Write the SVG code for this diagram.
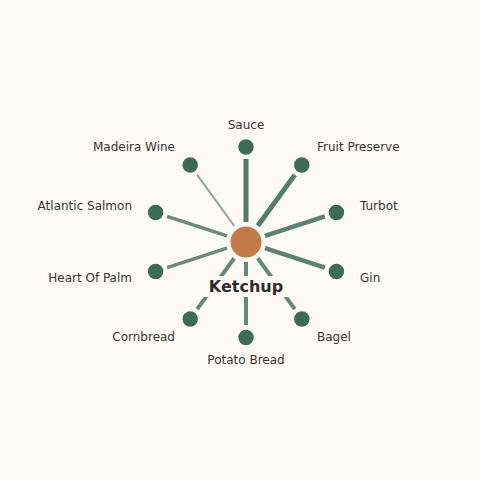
<svg xmlns="http://www.w3.org/2000/svg" width="480" height="480" viewBox="0 0 480 480">
<style>
.lbl{font-family:"DejaVu Sans",sans-serif;font-size:12px;fill:#333333}
.node{fill:#3d6b5a;stroke:#fffaf6;stroke-width:1.5}
.edge{stroke:#3d6b5a;fill:none;stroke-linecap:butt}
.title{font-family:"DejaVu Sans",sans-serif;font-size:16px;font-weight:bold;fill:#2b2b2b}
</style>
<rect width="480" height="480" fill="#fffaf6"/>
<g id="connectors">
<line class="edge" x1="246" y1="222" x2="246" y2="159" stroke-width="5" stroke-opacity="0.9"/>
<line class="edge" x1="257.8" y1="225.8" x2="294.8" y2="174.9" stroke-width="5" stroke-opacity="0.88"/>
<line class="edge" x1="265" y1="235.8" x2="324.9" y2="216.4" stroke-width="4.5" stroke-opacity="0.85"/>
<line class="edge" x1="265" y1="248.2" x2="324.9" y2="267.6" stroke-width="4.5" stroke-opacity="0.85"/>
<line class="edge" x1="257.8" y1="258.2" x2="294.8" y2="309.1" stroke-width="4" stroke-opacity="0.8"/>
<line class="edge" x1="246" y1="262" x2="246" y2="325" stroke-width="4" stroke-opacity="0.8"/>
<line class="edge" x1="234.2" y1="258.2" x2="197.2" y2="309.1" stroke-width="4" stroke-opacity="0.8"/>
<line class="edge" x1="227" y1="248.2" x2="167.1" y2="267.6" stroke-width="3.5" stroke-opacity="0.78"/>
<line class="edge" x1="227" y1="235.8" x2="167.1" y2="216.4" stroke-width="3.5" stroke-opacity="0.78"/>
<line class="edge" x1="234.2" y1="225.8" x2="197.2" y2="174.9" stroke-width="2" stroke-opacity="0.58"/>
</g>
<g id="center">
<circle cx="246" cy="242" r="16.5" fill="#c27a48" stroke="#fffaf6" stroke-width="2"/>
<rect x="203" y="276" width="86" height="21" fill="#fffaf6"/>
<text class="title" x="246" y="291.5" text-anchor="middle">Ketchup</text>
</g>
<g id="n-sauce"><circle class="node" cx="246" cy="147" r="8.5"/><text class="lbl" x="246" y="129" text-anchor="middle">Sauce</text></g>
<g id="n-fruit"><circle class="node" cx="301.8" cy="165.1" r="8.5"/><text class="lbl" x="317" y="151">Fruit Preserve</text></g>
<g id="n-turbot"><circle class="node" cx="336.4" cy="212.6" r="8.5"/><text class="lbl" x="360" y="210">Turbot</text></g>
<g id="n-gin"><circle class="node" cx="336.4" cy="271.4" r="8.5"/><text class="lbl" x="360" y="282">Gin</text></g>
<g id="n-bagel"><circle class="node" cx="301.8" cy="318.9" r="8.5"/><text class="lbl" x="317" y="341">Bagel</text></g>
<g id="n-potato"><circle class="node" cx="246" cy="337.5" r="8.5"/><text class="lbl" x="246" y="364" text-anchor="middle">Potato Bread</text></g>
<g id="n-cornbread"><circle class="node" cx="190.2" cy="318.9" r="8.5"/><text class="lbl" x="175" y="341" text-anchor="end">Cornbread</text></g>
<g id="n-palm"><circle class="node" cx="155.6" cy="271.4" r="8.5"/><text class="lbl" x="132" y="282" text-anchor="end">Heart Of Palm</text></g>
<g id="n-salmon"><circle class="node" cx="155.6" cy="212.6" r="8.5"/><text class="lbl" x="132" y="210" text-anchor="end">Atlantic Salmon</text></g>
<g id="n-madeira"><circle class="node" cx="190.2" cy="165.1" r="8.5"/><text class="lbl" x="175" y="151" text-anchor="end">Madeira Wine</text></g>
</svg>
